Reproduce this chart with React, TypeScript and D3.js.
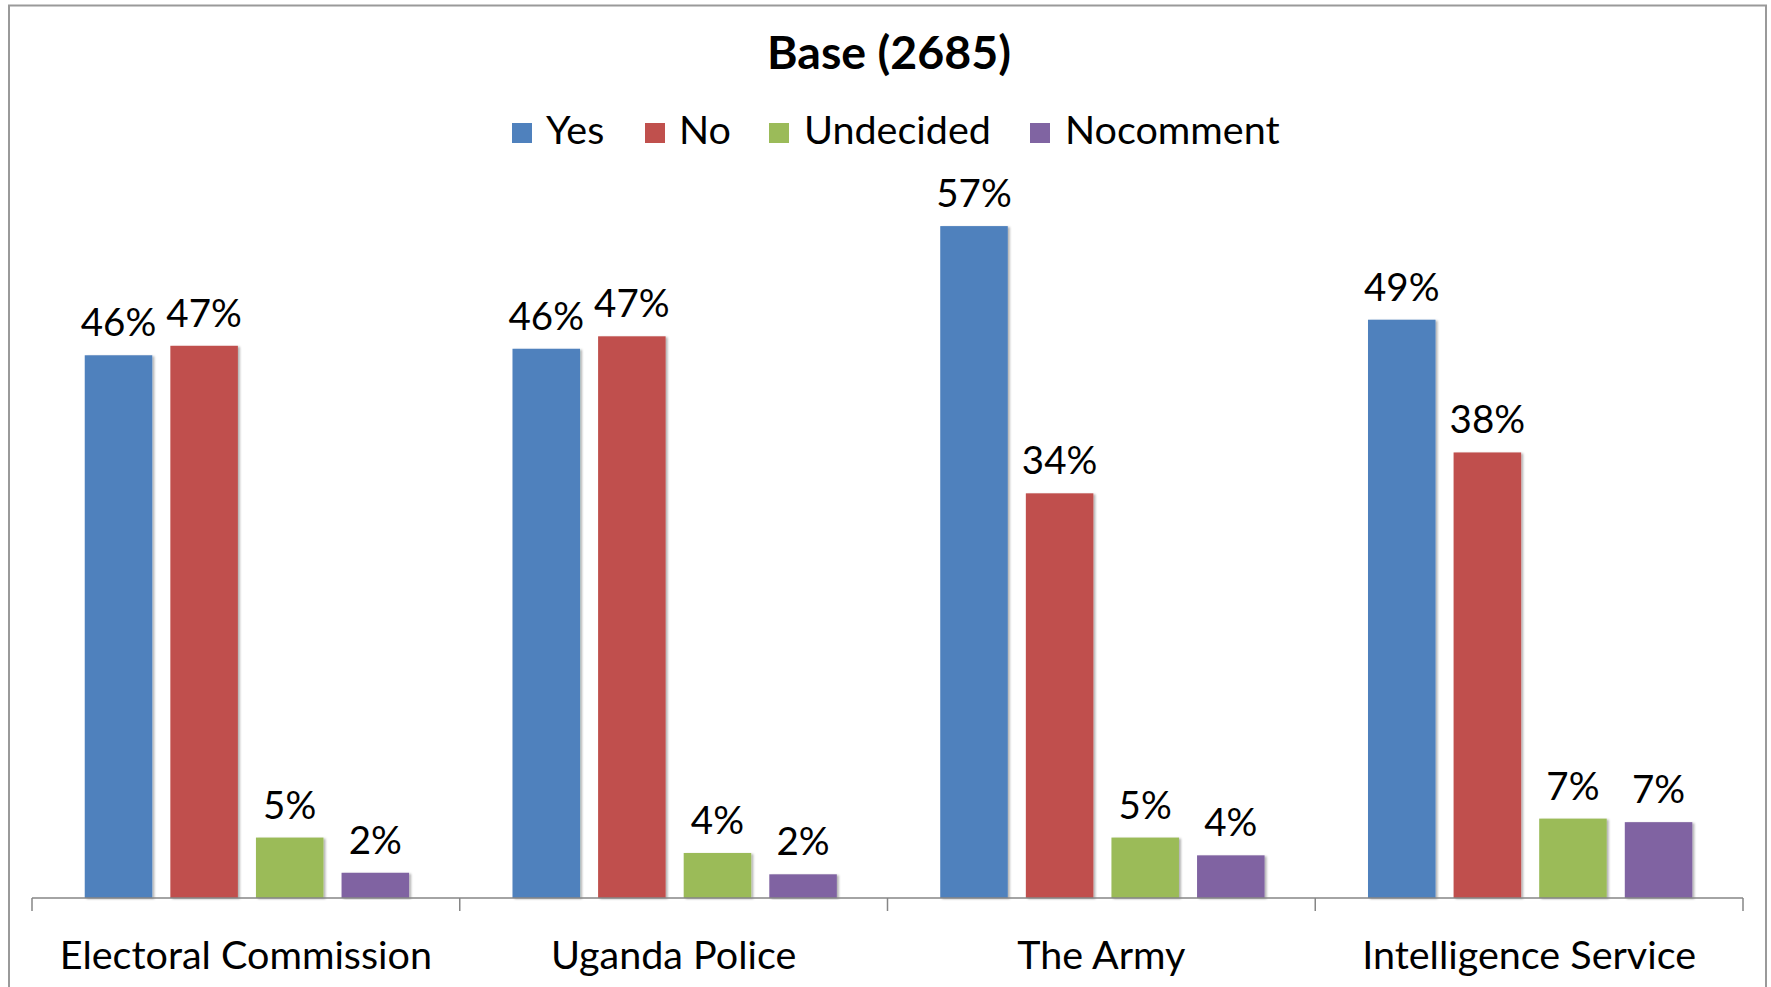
import React from "react";
import * as d3 from "d3";

const categories = ["Electoral Commission", "Uganda Police", "The Army", "Intelligence Service"];
const seriesNames = ["Yes", "No", "Undecided", "Nocomment"];
const yesValues = [45.8, 46.35, 56.7, 48.8];
const noValues = [46.6, 47.4, 34.15, 37.6];
const undecidedValues = [5.1, 3.8, 5.1, 6.7];
const nocommentValues = [2.13, 2.0, 3.6, 6.4];
const labelTexts = [
  ["46%", "47%", "5%", "2%"],
  ["46%", "47%", "4%", "2%"],
  ["57%", "34%", "5%", "4%"],
  ["49%", "38%", "7%", "7%"],
];
const colors = ["#4F81BD", "#C0504D", "#9BBB59", "#8064A2"];
const title = "Base (2685)";

const W = 1771;
const H = 987;
const FONT = "Lato, 'Open Sans', sans-serif";

export default function App() {
  const seriesValues = [yesValues, noValues, undecidedValues, nocommentValues];
  const x0 = d3.scaleBand<string>().domain(categories).range([32, 1743]).paddingInner(0).paddingOuter(0);
  const x1 = d3
    .scaleBand<string>()
    .domain(seriesNames)
    .range([0, x0.bandwidth()])
    .paddingInner(0.211)
    .paddingOuter(0.604)
    .align(0.51);
  const y = d3.scaleLinear().domain([0, 60]).range([898, 898 - 60 * 11.85]);
  const baseY = y(0);

  const legendItems = [
    { name: "Yes", sq: 512, tx: 546 },
    { name: "No", sq: 645, tx: 679 },
    { name: "Undecided", sq: 769, tx: 804 },
    { name: "Nocomment", sq: 1030, tx: 1065 },
  ];

  const boundaries = categories.map((c) => x0(c) as number).concat([1743]);

  return (
    <svg
      width={W}
      height={H}
      viewBox={`0 0 ${W} ${H}`}
      style={{ position: "absolute", left: 0, top: 0, display: "block", background: "#fff" }}
    >
      <defs>
        <filter id="shadow" x="-20%" y="-5%" width="140%" height="110%">
          <feDropShadow dx="2" dy="1" stdDeviation="1.2" floodColor="#000" floodOpacity="0.3" />
        </filter>
      </defs>
      <rect x={0} y={0} width={W} height={H} fill="#fff" />
      <rect x={9} y={5.5} width={1757} height={1100} fill="none" stroke="#9a9a9a" strokeWidth={2} />

      <text x={889} y={69} textAnchor="middle" fontFamily={FONT} fontWeight="bold" fontSize={46.5} fill="#000">
        {title}
      </text>

      {legendItems.map((it, i) => (
        <g key={it.name}>
          <rect x={it.sq} y={123} width={20} height={20} fill={colors[i]} />
          <text x={it.tx} y={144} fontFamily={FONT} fontSize={39.5} fill="#000">
            {it.name}
          </text>
        </g>
      ))}

      {categories.map((cat, ci) => (
        <g key={cat} transform={`translate(${x0(cat)},0)`}>
          {seriesNames.map((s, si) => {
            const v = seriesValues[si][ci];
            const bx = x1(s) as number;
            const bw = x1.bandwidth();
            return (
              <g key={s}>
                <rect
                  x={bx}
                  y={y(v)}
                  width={bw}
                  height={baseY - y(v)}
                  fill={colors[si]}
                  filter="url(#shadow)"
                />
                <text
                  x={bx + bw / 2}
                  y={y(v) - 19}
                  textAnchor="middle"
                  fontFamily={FONT}
                  fontSize={38.5}
                  fill="#000"
                >
                  {labelTexts[ci][si]}
                </text>
              </g>
            );
          })}
          <text
            x={x0.bandwidth() / 2}
            y={969}
            textAnchor="middle"
            fontFamily={FONT}
            fontSize={39.5}
            fill="#000"
          >
            {cat}
          </text>
        </g>
      ))}

      <line x1={32} x2={1743} y1={baseY} y2={baseY} stroke="#868686" strokeWidth={1.5} />
      {boundaries.map((bx, i) => (
        <line key={i} x1={bx} x2={bx} y1={baseY} y2={baseY + 13} stroke="#868686" strokeWidth={1.5} />
      ))}
    </svg>
  );
}
